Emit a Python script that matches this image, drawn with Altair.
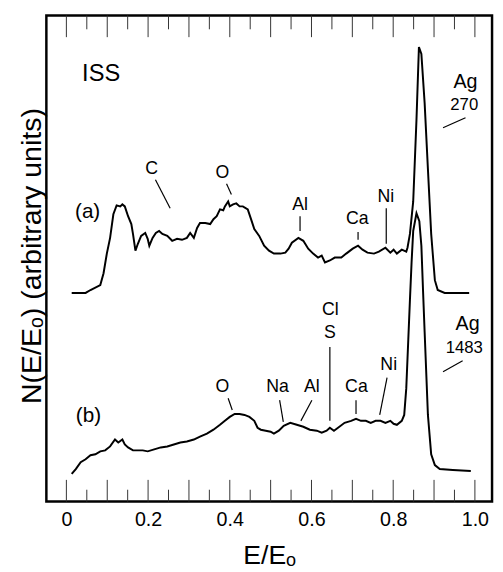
import altair as alt
import pandas as pd

# ---- spectrum (a): E/E0 vs N (arbitrary units) ----
a_x = [0.013, 0.047, 0.059, 0.083, 0.091, 0.099, 0.107, 0.115, 0.123, 0.132, 0.137, 0.143,
       0.151, 0.159, 0.163, 0.169, 0.175, 0.183, 0.193, 0.199, 0.203, 0.211, 0.219, 0.227,
       0.235, 0.247, 0.259, 0.271, 0.283, 0.295, 0.303, 0.312, 0.320, 0.327, 0.340, 0.352,
       0.360, 0.368, 0.376, 0.384, 0.388, 0.396, 0.400, 0.408, 0.416, 0.424, 0.432, 0.444,
       0.452, 0.460, 0.472, 0.484, 0.496, 0.508, 0.524, 0.536, 0.544, 0.552, 0.568, 0.580,
       0.592, 0.604, 0.616, 0.625, 0.633, 0.645, 0.657, 0.673, 0.685, 0.701, 0.714, 0.725,
       0.737, 0.753, 0.765, 0.781, 0.793, 0.801, 0.809, 0.821, 0.832, 0.835, 0.841, 0.849,
       0.857, 0.863, 0.869, 0.877, 0.885, 0.893, 0.902, 0.909, 0.926, 0.946, 0.986]
a_y = [212, 212, 215, 220, 232, 252, 268, 292, 301, 300, 302, 300,
       290, 282, 272, 255, 262, 270, 273, 267, 260, 268, 273, 275,
       272, 270, 265, 267, 266, 268, 273, 268, 278, 283, 283, 282,
       287, 290, 297, 296, 300, 305, 300, 302, 303, 300, 300, 297,
       287, 277, 270, 260, 255, 252, 252, 253, 257, 263, 268, 265,
       257, 252, 248, 250, 243, 245, 248, 248, 252, 257, 260, 256,
       253, 252, 254, 258, 253, 256, 252, 256, 254, 258, 272, 305,
       388, 462, 455, 405, 338, 272, 225, 215, 212, 212, 212]

# ---- spectrum (b) ----
b_x = [0.013, 0.023, 0.035, 0.047, 0.059, 0.071, 0.083, 0.095, 0.107, 0.119, 0.127, 0.137,
       0.143, 0.151, 0.163, 0.175, 0.187, 0.199, 0.215, 0.231, 0.247, 0.263, 0.279, 0.295,
       0.312, 0.327, 0.344, 0.360, 0.376, 0.388, 0.400, 0.412, 0.424, 0.436, 0.448, 0.460,
       0.468, 0.476, 0.488, 0.500, 0.508, 0.520, 0.532, 0.548, 0.564, 0.580, 0.596, 0.613,
       0.625, 0.637, 0.645, 0.655, 0.665, 0.681, 0.697, 0.709, 0.721, 0.733, 0.745, 0.757,
       0.769, 0.781, 0.793, 0.801, 0.809, 0.821, 0.827, 0.832, 0.837, 0.841, 0.845, 0.849,
       0.857, 0.864, 0.869, 0.873, 0.877, 0.885, 0.893, 0.902, 0.914, 0.946, 0.990]
b_y = [28, 33, 40, 43, 47, 48, 51, 52, 56, 63, 60, 63,
       58, 55, 52, 52, 52, 51, 53, 55, 56, 58, 60, 61,
       63, 66, 69, 73, 78, 82, 86, 89, 89, 88, 86, 82,
       75, 73, 72, 71, 69, 72, 77, 80, 78, 76, 73, 72,
       70, 72, 75, 72, 75, 80, 82, 84, 82, 82, 80, 82,
       82, 80, 82, 79, 78, 82, 88, 115, 165, 205, 243, 275,
       293, 285, 260, 215, 172, 88, 48, 37, 33, 32, 31]

# ---- axis ticks ----
major_ticks = [0.0, 0.1, 0.2, 0.3, 0.4, 0.5, 0.6, 0.7, 0.8, 0.9, 1.0]
minor_ticks = [0.05, 0.15, 0.25, 0.35, 0.45, 0.55, 0.65, 0.75, 0.85, 0.95]
tick_labels = [0.0, 0.2, 0.4, 0.6, 0.8, 1.0]

# ---- annotations ----
label_text = ["ISS", "(a)", "(b)", "C", "O", "Al", "Ca", "Ni", "Ag", "270",
              "O", "Na", "Al", "Cl", "S", "Ca", "Ni", "Ag", "1483"]
label_x = [0.085, 0.052, 0.054, 0.209, 0.382, 0.572, 0.712, 0.782, 0.977, 0.974,
           0.382, 0.517, 0.601, 0.646, 0.645, 0.710, 0.789, 0.982, 0.974]
label_y = [434.5, 294, 86.5, 338, 334, 301, 287, 309, 426, 403,
           116, 116, 116, 195, 171, 116, 139, 180, 156]
label_size = [24, 21, 21, 18, 18, 18, 18, 18, 20, 17,
              18, 18, 18, 18, 18, 18, 18, 20, 17]

lead_x1 = [0.218, 0.392, 0.572, 0.714, 0.783, 0.977, 0.396, 0.522, 0.601, 0.645, 0.709, 0.785, 0.970]
lead_y1 = [327, 323, 290, 274, 298, 390, 105, 103, 103, 157, 103, 126, 143]
lead_x2 = [0.254, 0.404, 0.572, 0.714, 0.783, 0.922, 0.406, 0.531, 0.574, 0.645, 0.709, 0.767, 0.922]
lead_y2 = [298, 312, 275, 266, 262, 380, 93, 81, 82, 82, 89, 88, 132]

W, H = 453, 494
XDOM = [-0.049, 1.042]
YDOM = [0, 494]

spec = pd.concat([
    pd.DataFrame({"x": a_x, "y": a_y, "s": "a"}),
    pd.DataFrame({"x": b_x, "y": b_y, "s": "b"}),
])

xs = alt.Scale(domain=XDOM, nice=False, zero=False)
ys = alt.Scale(domain=YDOM, nice=False, zero=False)

base_x = alt.X(
    "x:Q", scale=xs,
    axis=alt.Axis(
        values=tick_labels, labelExpr="datum.value == 0 ? '0' : format(datum.value, '.1f')",
        ticks=False, tickSize=0, domain=False, grid=False,
        labelFontSize=20, labelColor="black", labelPadding=8,
        title="E/Eₒ", titleFontSize=27, titleFontWeight="normal", titleColor="black",
        titleY=63, titleBaseline="alphabetic",
    ),
)
base_y = alt.Y(
    "y:Q", scale=ys,
    axis=alt.Axis(
        labels=False, ticks=False, domain=False, grid=False,
        title="N(E/Eₒ) (arbitrary units)", titleFontSize=29, titleFontWeight="normal",
        titleColor="black", titleX=-15, titleY=244, titleAngle=270,
        titleAlign="center", titleBaseline="middle",
    ),
)

lines = alt.Chart(spec).mark_line(color="black", strokeWidth=2).encode(
    x=base_x, y=base_y, detail="s:N", order="x:Q"
)

maj = pd.DataFrame({"t": major_ticks})
mnr = pd.DataFrame({"t": minor_ticks})
tx = alt.X("t:Q", scale=xs)
tick_col = "#333333"
ticks = [
    alt.Chart(maj).mark_rule(color=tick_col, strokeWidth=1).encode(x=tx, y=alt.value(H), y2=alt.value(H - 22)),
    alt.Chart(mnr).mark_rule(color=tick_col, strokeWidth=1).encode(x=tx, y=alt.value(H), y2=alt.value(H - 12)),
    alt.Chart(maj).mark_rule(color=tick_col, strokeWidth=1).encode(x=tx, y=alt.value(0), y2=alt.value(22)),
    alt.Chart(mnr).mark_rule(color=tick_col, strokeWidth=1).encode(x=tx, y=alt.value(0), y2=alt.value(14)),
]

lead = pd.DataFrame({"x1": lead_x1, "y1": lead_y1, "x2": lead_x2, "y2": lead_y2})
leaders = alt.Chart(lead).mark_rule(color="black", strokeWidth=1.2).encode(
    x=alt.X("x1:Q", scale=xs), y=alt.Y("y1:Q", scale=ys), x2="x2:Q", y2="y2:Q"
)

lab = pd.DataFrame({"x": label_x, "y": label_y, "t": label_text, "sz": label_size})
labels = alt.Chart(lab).mark_text(color="black", align="center", baseline="middle").encode(
    x=alt.X("x:Q", scale=xs), y=alt.Y("y:Q", scale=ys), text="t:N",
    size=alt.Size("sz:Q", scale=None, legend=None),
)

chart = alt.layer(lines, *ticks, leaders, labels).properties(
    width=W, height=H,
    autosize=alt.AutoSizeParams(type="none"),
    padding={"left": 39, "top": 3, "right": 3, "bottom": 67},
).configure(font="Liberation Sans").configure_view(stroke="black", strokeWidth=2.5)

chart.save("out.html", embed_options={"renderer": "svg", "actions": False})
